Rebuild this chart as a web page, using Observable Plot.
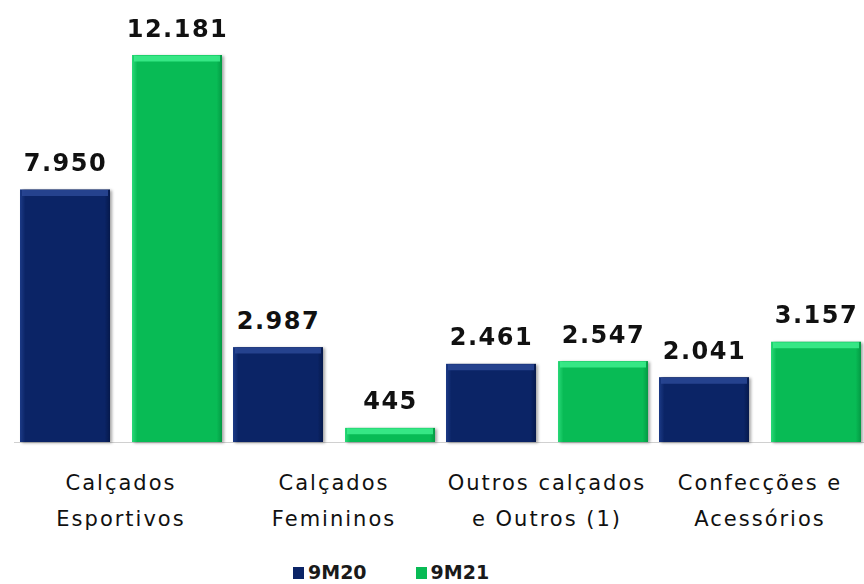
<!DOCTYPE html>
<html>
<head>
<meta charset="utf-8">
<script src="https://cdn.jsdelivr.net/npm/d3@7"></script>
<script src="https://cdn.jsdelivr.net/npm/@observablehq/plot@0.6"></script>
<style>
  body { margin: 0; background: #fff; overflow: hidden; }
  #chart svg { display: block; overflow: visible; }
  g[aria-label="fx-axis tick label"] text { letter-spacing: 2px; }
  g[aria-label="text"] text { letter-spacing: 1.5px; }
  g[aria-label="bar"] { filter: drop-shadow(2px 1px 1.5px rgba(0,0,0,0.35)); }
  .legend { display: flex; align-items: center; margin-top: 13px; padding-left: 293px;
            font-family: "DejaVu Sans", sans-serif; font-weight: bold; font-size: 19px; line-height: 19px; color: #1a1a1a; }
  .legend .sw { display: inline-block; width: 11px; height: 12px; margin-right: 4px; }
  .legend .item { display: flex; align-items: center; margin-right: 49px; }
</style>
</head>
<body>
<div id="chart"></div>
<script>
const categories = ["Calçados Esportivos", "Calçados Femininos", "Outros calçados e Outros (1)", "Confecções e Acessórios"];
const tickLabels = ["Calçados\nEsportivos", "Calçados\nFemininos", "Outros calçados\ne Outros (1)", "Confecções e\nAcessórios"];
const series = ["9M20", "9M21"];
const values9M20 = [7950, 2987, 2461, 2041];
const values9M21 = [12181, 445, 2547, 3157];

const data = categories.flatMap((c, i) => [
  {category: c, series: series[0], value: values9M20[i]},
  {category: c, series: series[1], value: values9M21[i]}
]);
const d20 = data.filter(d => d.series === series[0]);
const d21 = data.filter(d => d.series === series[1]);

const fmt = d3.formatLocale({decimal: ",", thousands: ".", grouping: [3], currency: ["", ""]}).format(",d");

const chart = Plot.plot({
  width: 864,
  height: 550,
  marginTop: 55,
  marginBottom: 108,
  marginLeft: 12,
  marginRight: -3,
  fx: {domain: categories, padding: 0},
  x: {domain: series, paddingInner: 0.2, paddingOuter: 0.045, axis: null},
  y: {domain: [0, d3.max(data, d => d.value)], nice: false, axis: null},
  marks: [
    Plot.ruleY([0], {stroke: "#d0d0d0", strokeWidth: 1}),
    Plot.barY(d20, {fx: "category", x: "series", y: "value", fill: "url(#gNavy)"}),
    Plot.barY(d21, {fx: "category", x: "series", y: "value", fill: "url(#gGreen)"}),
    Plot.tickY(d20, {fx: "category", x: "series", y: "value", stroke: "#2a4895", strokeWidth: 6, dy: 3, insetLeft: 2, insetRight: 2, strokeOpacity: 0.85}),
    Plot.tickY(d21, {fx: "category", x: "series", y: "value", stroke: "#3eef8e", strokeWidth: 6, dy: 3, insetLeft: 2, insetRight: 2, strokeOpacity: 0.85}),
    Plot.text(data, {fx: "category", x: "series", y: "value", text: d => fmt(d.value), lineAnchor: "bottom", dy: -19,
      fontSize: 24, fontWeight: "bold", fontFamily: "DejaVu Sans", fill: "#111"}),
    Plot.axisFx({anchor: "bottom", tickSize: 0, tickPadding: 21, fontSize: 21, fontFamily: "DejaVu Sans", lineHeight: 1.75, label: null,
      tickFormat: d => tickLabels[categories.indexOf(d)], fill: "#111"})
  ]
});

const ns = "http://www.w3.org/2000/svg";
const defs = document.createElementNS(ns, "defs");
defs.innerHTML = `
  <linearGradient id="gNavy" x1="0" x2="1" y1="0" y2="0">
    <stop offset="0" stop-color="#1c3a86"/>
    <stop offset="0.06" stop-color="#0b2466"/>
    <stop offset="0.94" stop-color="#0b2466"/>
    <stop offset="1" stop-color="#06194c"/>
  </linearGradient>
  <linearGradient id="gGreen" x1="0" x2="1" y1="0" y2="0">
    <stop offset="0" stop-color="#2ad978"/>
    <stop offset="0.06" stop-color="#08bb55"/>
    <stop offset="0.94" stop-color="#08bb55"/>
    <stop offset="1" stop-color="#049a44"/>
  </linearGradient>`;
chart.insertBefore(defs, chart.firstChild);
document.getElementById("chart").appendChild(chart);

const legend = document.createElement("div");
legend.className = "legend";
const legendColors = ["#0b2466", "#08bb55"];
series.forEach((s, i) => {
  const item = document.createElement("span");
  item.className = "item";
  item.innerHTML = `<span class="sw" style="background:${legendColors[i]}"></span>${s}`;
  legend.appendChild(item);
});
document.getElementById("chart").appendChild(legend);
</script>
</body>
</html>
